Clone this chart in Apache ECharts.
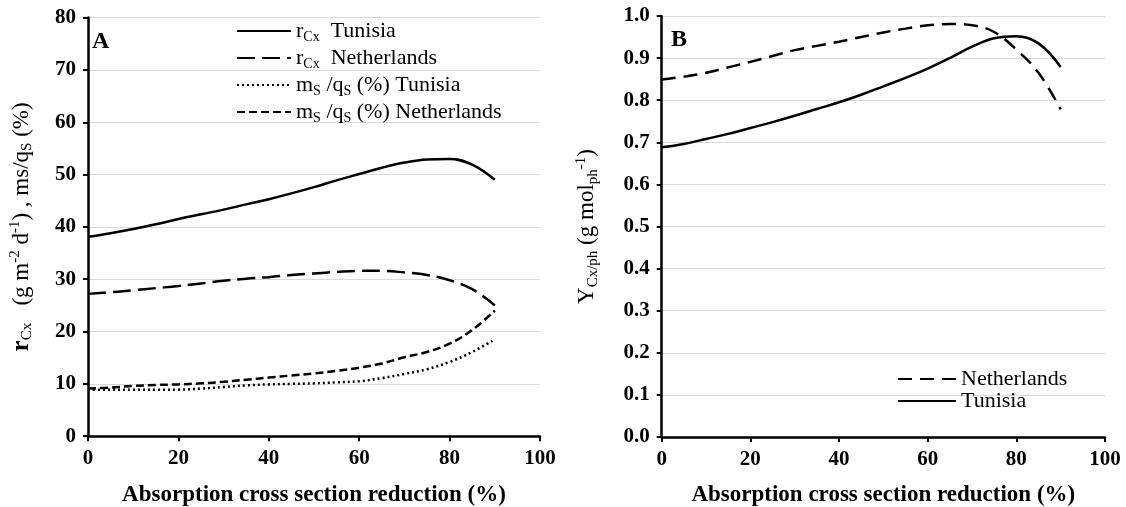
<!DOCTYPE html>
<html><head><meta charset="utf-8">
<script src="https://cdn.jsdelivr.net/npm/echarts@6/dist/echarts.min.js"></script>
<style>html,body{margin:0;padding:0;background:#fff}#c{width:1126px;height:507px}</style>
</head><body><div id="c"></div>
<script>
// Absorption cross section reduction (%)
const reduction = [0,5,10,15,20,25,30,35,40,45,50,55,60,65,70,75,80,85,90];
// Panel A
const rCxTunisia     = [38.1,38.8,39.6,40.5,41.5,42.4,43.3,44.3,45.3,46.4,47.6,48.9,50.1,51.3,52.3,52.9,53.0,51.9,49.0];
const rCxNetherlands = [27.2,27.5,27.9,28.3,28.7,29.2,29.7,30.1,30.4,30.8,31.1,31.4,31.6,31.6,31.3,30.8,29.8,28.1,25.0];
const msqsTunisia    = [8.9,8.9,8.9,8.9,8.9,9.1,9.4,9.7,9.9,10.0,10.1,10.3,10.5,11.1,11.9,12.8,14.2,16.1,18.5];
const msqsNetherlands= [9.1,9.3,9.6,9.8,9.9,10.1,10.4,10.8,11.2,11.6,12.0,12.5,13.1,13.9,15.1,16.1,17.7,20.3,24.0];
// Panel B
const yieldNetherlands = [0.849,0.856,0.865,0.878,0.891,0.905,0.919,0.929,0.939,0.950,0.961,0.970,0.978,0.981,0.978,0.962,0.920,0.865,0.778];
const yieldTunisia     = [0.688,0.696,0.708,0.720,0.734,0.748,0.763,0.779,0.795,0.813,0.833,0.853,0.875,0.900,0.927,0.947,0.952,0.935,0.879];
const xTicksA = [0,20,40,60,80,100];
const yTicksA = [0,10,20,30,40,50,60,70,80];
const yTicksB = [0,0.1,0.2,0.3,0.4,0.5,0.6,0.7,0.8,0.9,1.0];

const FONT = 'Liberation Serif';
const pairs = ys => reduction.map((x,i)=>[x, ys[i]]);

const chart = echarts.init(document.getElementById('c'), null, {renderer:'canvas'});

const xAxisBase = (gi) => ({
  type:'value', gridIndex:gi, min:xTicksA[0], max:xTicksA[xTicksA.length-1], interval:20,
  axisLine:{show:true, onZero:false, lineStyle:{color:'#000', width:2.5}},
  axisTick:{show:true, length:5, lineStyle:{color:'#000', width:2}},
  axisLabel:{color:'#000', fontFamily:FONT, fontWeight:'bold', fontSize:21, margin:12},
  splitLine:{show:false},
  name:'Absorption cross section reduction (%)', nameLocation:'middle', nameGap:47,
  nameTextStyle:{color:'#000', fontFamily:FONT, fontWeight:'bold', fontSize:23}
});

const mkRich = (fs, ss) => ({
  n:{fontFamily:FONT, fontSize:fs, color:'#000', lineHeight:fs+4},
  b:{fontFamily:FONT, fontSize:fs+2, fontWeight:'bold', color:'#000', lineHeight:fs+4},
  s:{fontFamily:FONT, fontSize:ss, color:'#000', lineHeight:fs+4, verticalAlign:'bottom', padding:[6,0,0,0]},
  p:{fontFamily:FONT, fontSize:ss, color:'#000', lineHeight:fs+4, verticalAlign:'top'}
});
const legendRich = mkRich(22, 14);
const axisNameRich = mkRich(23, 15);

const legendNames = {
  'rCx Tunisia':'{n|r}{s|Cx}{n|  Tunisia}',
  'rCx Netherlands':'{n|r}{s|Cx}{n|  Netherlands}',
  'ms/qs (%) Tunisia':'{n|m}{s|S}{n| /q}{s|S}{n| (%) Tunisia}',
  'ms/qs (%) Netherlands':'{n|m}{s|S}{n| /q}{s|S}{n| (%) Netherlands}',
  'Netherlands':'{n|Netherlands}',
  'Tunisia':'{n|Tunisia}'
};

const option = {
  animation:false,
  backgroundColor:'#fff',
  grid:[
    {left:88, top:17.6, width:452, height:418.6, containLabel:false, outerBoundsMode:'none'},
    {left:661.7, top:16, width:443.3, height:421, containLabel:false, outerBoundsMode:'none'}
  ],
  xAxis:[ xAxisBase(0), xAxisBase(1) ],
  yAxis:[
    {type:'value', gridIndex:0, min:yTicksA[0], max:yTicksA[yTicksA.length-1], interval:10,
     axisLine:{show:true, lineStyle:{color:'#000', width:2.5}},
     axisTick:{show:true, length:5, lineStyle:{color:'#000', width:2}},
     axisLabel:{color:'#000', fontFamily:FONT, fontWeight:'bold', fontSize:21, margin:12},
     splitLine:{show:true, lineStyle:{color:'#d9d9d9', width:1}},
     name:'{b|r}{s|Cx}{n|   (g m}{p|-2}{n| d}{p|-1}{n|) , ms/q}{s|S}{n| (%)}',
     nameLocation:'middle', nameGap:53, nameRotate:90,
     nameTextStyle:{rich:axisNameRich}
    },
    {type:'value', gridIndex:1, min:yTicksB[0], max:yTicksB[yTicksB.length-1], interval:0.1,
     axisLine:{show:true, lineStyle:{color:'#000', width:2.5}},
     axisTick:{show:true, length:5, lineStyle:{color:'#000', width:2}},
     axisLabel:{color:'#000', fontFamily:FONT, fontWeight:'bold', fontSize:21, margin:12, formatter:v=>v.toFixed(1)},
     splitLine:{show:true, lineStyle:{color:'#d9d9d9', width:1}},
     name:'{n|Y}{s|Cx/ph}{n| (g mol}{s|ph}{p|-1}{n|)}',
     nameLocation:'middle', nameGap:61, nameRotate:90,
     nameTextStyle:{rich:axisNameRich}
    }
  ],
  legend:[
    {data:['rCx Tunisia','rCx Netherlands','ms/qs (%) Tunisia','ms/qs (%) Netherlands'],
     orient:'vertical', left:236, top:20, itemGap:3, itemWidth:54, itemHeight:14, padding:0,
     itemStyle:{opacity:0},
     formatter:n=>legendNames[n], textStyle:{rich:legendRich}, selectedMode:false},
    {data:['Netherlands','Tunisia'],
     orient:'vertical', left:897, top:368, itemGap:0, itemWidth:58, itemHeight:14, padding:0,
     itemStyle:{opacity:0},
     formatter:n=>legendNames[n], textStyle:{rich:legendRich}, selectedMode:false}
  ],
  graphic:[
    {type:'text', left:92, top:30, style:{text:'A', font:'bold 24px "Liberation Serif"', fill:'#000'}},
    {type:'text', left:671, top:28, style:{text:'B', font:'bold 24px "Liberation Serif"', fill:'#000'}}
  ],
  series:[
    {name:'rCx Tunisia', type:'line', xAxisIndex:0, yAxisIndex:0, data:pairs(rCxTunisia), smooth:0.4, symbol:'none',
     lineStyle:{color:'#000', width:2.5, type:'solid'}, itemStyle:{color:'#000'}},
    {name:'rCx Netherlands', type:'line', xAxisIndex:0, yAxisIndex:0, data:pairs(rCxNetherlands), smooth:0.4, symbol:'none',
     lineStyle:{color:'#000', width:2.5, type:[18,7]}, itemStyle:{color:'#000'}},
    {name:'ms/qs (%) Tunisia', type:'line', xAxisIndex:0, yAxisIndex:0, data:pairs(msqsTunisia), smooth:0.4, symbol:'none',
     lineStyle:{color:'#000', width:2.5, type:[2,3]}, itemStyle:{color:'#000'}},
    {name:'ms/qs (%) Netherlands', type:'line', xAxisIndex:0, yAxisIndex:0, data:pairs(msqsNetherlands), smooth:0.4, symbol:'none',
     lineStyle:{color:'#000', width:2.5, type:[8,4]}, itemStyle:{color:'#000'}},
    {name:'Netherlands', type:'line', xAxisIndex:1, yAxisIndex:1, data:pairs(yieldNetherlands), smooth:0.4, symbol:'none',
     lineStyle:{color:'#000', width:2.5, type:[14,8]}, itemStyle:{color:'#000'}},
    {name:'Tunisia', type:'line', xAxisIndex:1, yAxisIndex:1, data:pairs(yieldTunisia), smooth:0.4, symbol:'none',
     lineStyle:{color:'#000', width:2.5, type:'solid'}, itemStyle:{color:'#000'}}
  ]
};
chart.setOption(option);
</script>
</body></html>
